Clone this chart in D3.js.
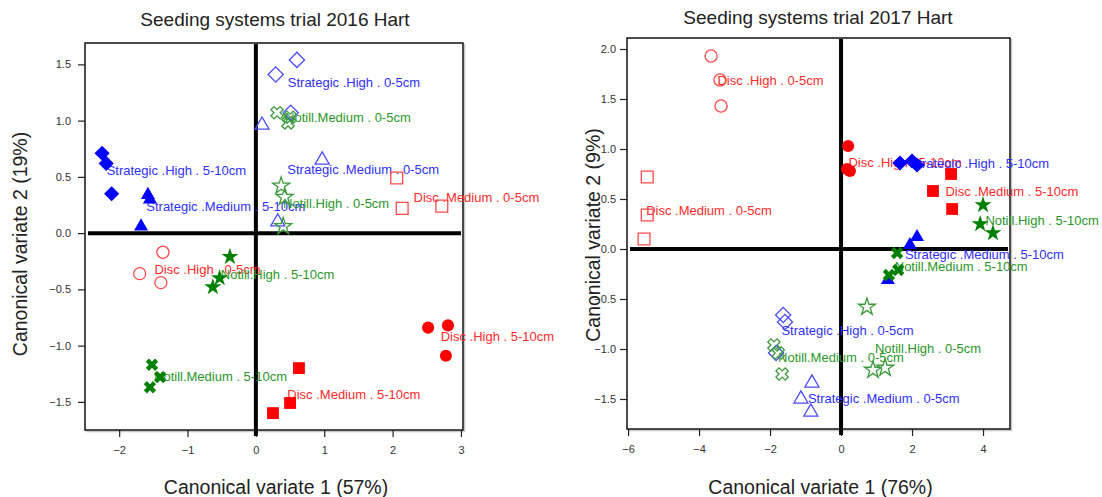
<!DOCTYPE html>
<html>
<head>
<meta charset="utf-8">
<script src="https://cdn.jsdelivr.net/npm/d3@7"></script>
<style>
  body { margin: 0; background: #fff; }
  text { font-family: "Liberation Sans", Arial, sans-serif; }
</style>
</head>
<body>
<svg id="chart" width="1102" height="497"></svg>
<script>
/// Group names (treatment . rate . depth) and canonical scores, one inner array per group
var groups2016 = [
  "Strategic .High . 5-10cm", "Strategic .Medium . 5-10cm", "Strategic .High . 0-5cm",
  "Notill.Medium . 0-5cm", "Strategic .Medium . 0-5cm", "Notill.High . 0-5cm",
  "Disc .Medium . 0-5cm", "Disc .High . 0-5cm", "Notill.High . 5-10cm",
  "Notill.Medium . 5-10cm", "Disc .High . 5-10cm", "Disc .Medium . 5-10cm"
];
var x2016 = [
  [-2.25, -2.19, -2.11], [-1.58, -1.68, -1.55], [0.60, 0.29, 0.51],
  [0.31, 0.47, 0.50], [0.09, 0.97, 0.32], [0.37, 0.42, 0.40],
  [2.06, 2.14, 2.72], [-1.36, -1.70, -1.39], [-0.38, -0.53, -0.63],
  [-1.52, -1.40, -1.55], [2.52, 2.81, 2.78], [0.63, 0.50, 0.25]
];
var y2016 = [
  [0.71, 0.62, 0.35], [0.34, 0.06, 0.30], [1.54, 1.41, 1.07],
  [1.07, 0.98, 1.03], [0.96, 0.65, 0.10], [0.42, 0.32, 0.06],
  [0.49, 0.22, 0.24], [-0.17, -0.36, -0.44], [-0.21, -0.40, -0.48],
  [-1.17, -1.28, -1.37], [-0.84, -0.82, -1.09], [-1.20, -1.51, -1.60]
];

var groups2017 = [
  "Disc .High . 0-5cm", "Disc .Medium . 0-5cm", "Disc .High . 5-10cm",
  "Strategic .High . 5-10cm", "Disc .Medium . 5-10cm", "Notill.High . 5-10cm",
  "Strategic .Medium . 5-10cm", "Notill.Medium . 5-10cm", "Notill.High . 0-5cm",
  "Strategic .High . 0-5cm", "Notill.Medium . 0-5cm", "Strategic .Medium . 0-5cm"
];
var x2017 = [
  [-3.66, -3.41, -3.38], [-5.46, -5.46, -5.55], [0.20, 0.17, 0.25],
  [1.66, 2.00, 2.14], [3.10, 2.59, 3.13], [4.00, 3.92, 4.28],
  [2.14, 1.32, 1.94], [1.58, 1.61, 1.35], [0.73, 0.90, 1.24],
  [-1.63, -1.58, -1.83], [-1.89, -1.77, -1.66], [-0.82, -1.13, -0.85]
];
var y2017 = [
  [1.93, 1.69, 1.43], [0.72, 0.34, 0.10], [1.03, 0.80, 0.78],
  [0.86, 0.88, 0.84], [0.75, 0.58, 0.40], [0.44, 0.25, 0.16],
  [0.12, -0.31, 0.04], [-0.04, -0.21, -0.26], [-0.58, -1.21, -1.19],
  [-0.66, -0.73, -1.04], [-0.96, -1.04, -1.25], [-1.34, -1.50, -1.63]
];

/// Tick values
var xTicks2016 = [-2, -1, 0, 1, 2, 3];
var yTicks2016 = [-1.5, -1.0, -0.5, 0.0, 0.5, 1.0, 1.5];
var xTicks2017 = [-6, -4, -2, 0, 2, 4];
var yTicks2017 = [-1.5, -1.0, -0.5, 0.0, 0.5, 1.0, 1.5, 2.0];

/// Panel layout (pixel frame + axis extents)
var panels = [
  { title: "Seeding systems trial 2016 Hart", xLab: "Canonical variate 1 (57%)", yLab: "Canonical variate 2 (19%)",
    left: 85, right: 463, top: 43, bottom: 430, xDom: [-2.5, 3.03], yDom: [-1.75, 1.69],
    groups: groups2016, xs: x2016, ys: y2016, xTicks: xTicks2016, yTicks: yTicks2016,
    yPad: 7, titleX: 275, titleY: 26, yLabX: 27, yLabY: 244, xLabY: 494 },
  { title: "Seeding systems trial 2017 Hart", xLab: "Canonical variate 1 (76%)", yLab: "Canonical variate 2 (9%)",
    left: 627, right: 1010, top: 38, bottom: 429, xDom: [-6.03, 4.76], yDom: [-1.8, 2.11],
    groups: groups2017, xs: x2017, ys: y2017, xTicks: xTicks2017, yTicks: yTicks2017,
    yPad: 4, titleX: 818, titleY: 24, yLabX: 600, yLabY: 235, xLabY: 494 }
];

/// Colour and marker come from the group name
function styleOf(name) {
  var s = {};
  if (name.indexOf("Disc") === 0) { s.color = "#ff0000"; s.light = "#ff4a4a"; s.text = "#ff2a2a"; }
  else if (name.indexOf("Strategic") === 0) { s.color = "#0000ff"; s.light = "#4a4aff"; s.text = "#2f2fff"; }
  else { s.color = "#008000"; s.light = "#3c9a3c"; s.text = "#2a962a"; }
  var high = name.indexOf("High") >= 0;
  if (name.indexOf("Disc") === 0) s.shape = high ? "circle" : "square";
  else if (name.indexOf("Strategic") === 0) s.shape = high ? "diamond" : "triangle";
  else s.shape = high ? "star" : "x";
  s.filled = name.indexOf("5-10cm") >= 0;
  return s;
}

var shapes = {
  circle:   { type: d3.symbolCircle,   size: 115, rot: 0 },
  square:   { type: d3.symbolSquare,   size: 140, rot: 0 },
  diamond:  { type: d3.symbolSquare,   size: 115, rot: 45 },
  triangle: { type: d3.symbolTriangle, size: 85,  rot: 0 },
  star:     { type: d3.symbolStar,     size: 90,  rot: 0 },
  x:        { type: d3.symbolCross,    size: 95,  rot: 45 }
};

var svg = d3.select("#chart");

panels.forEach(function(p) {
  var xScale = d3.scaleLinear().domain(p.xDom).range([p.left, p.right]);
  var yScale = d3.scaleLinear().domain(p.yDom).range([p.bottom, p.top]);
  var g = svg.append("g");

  /// frame with a faint shadow
  g.append("rect")
    .attr("x", p.left + 1.5).attr("y", p.top + 1.5)
    .attr("width", p.right - p.left).attr("height", p.bottom - p.top)
    .attr("fill", "none").attr("stroke", "#c8c8c8").attr("stroke-width", 1.5);
  g.append("rect")
    .attr("x", p.left).attr("y", p.top)
    .attr("width", p.right - p.left).attr("height", p.bottom - p.top)
    .attr("fill", "#fff").attr("stroke", "#111").attr("stroke-width", 1.5);

  /// axes
  var bottomAxis = d3.axisBottom(xScale).tickValues(p.xTicks).tickSize(7).tickPadding(9)
    .tickFormat(d3.format("d"));
  var leftAxis = d3.axisLeft(yScale).tickValues(p.yTicks).tickSize(7).tickPadding(p.yPad)
    .tickFormat(d3.format(".1f"));

  var gx = g.append("g").attr("transform", "translate(0," + p.bottom + ")").call(bottomAxis);
  var gy = g.append("g").attr("transform", "translate(" + p.left + ",0)").call(leftAxis);
  [gx, gy].forEach(function(a) {
    a.select(".domain").remove();
    a.selectAll("line").attr("stroke", "#222").attr("stroke-width", 1.2);
    a.selectAll("text").attr("fill", "#333").style("font-size", "11px")
      .style("font-family", "'Liberation Sans Narrow', 'Liberation Sans', Arial, sans-serif");
  });

  /// zero lines
  g.append("line")
    .attr("x1", p.left + 3).attr("x2", p.right - 2)
    .attr("y1", yScale(0)).attr("y2", yScale(0))
    .attr("stroke", "#000").attr("stroke-width", 4);
  g.append("line")
    .attr("x1", xScale(0)).attr("x2", xScale(0))
    .attr("y1", p.top + 1).attr("y2", p.bottom + 6)
    .attr("stroke", "#000").attr("stroke-width", 4);

  /// group labels, placed at the group centroid
  p.groups.forEach(function(name, i) {
    var s = styleOf(name);
    g.append("text")
      .attr("x", xScale(d3.mean(p.xs[i])))
      .attr("y", yScale(d3.mean(p.ys[i])))
      .attr("dy", "0.35em")
      .attr("fill", s.text)
      .style("font-size", "13px")
      .text(name);
  });

  /// points
  p.groups.forEach(function(name, i) {
    var s = styleOf(name);
    var sh = shapes[s.shape];
    var sym = d3.symbol().type(sh.type).size(sh.size);
    g.selectAll(null)
      .data(d3.range(p.xs[i].length))
      .enter()
      .append("path")
      .attr("d", sym)
      .attr("transform", function(j) {
        return "translate(" + xScale(p.xs[i][j]) + "," + yScale(p.ys[i][j]) + ") rotate(" + sh.rot + ")";
      })
      .attr("fill", s.filled ? s.color : "none")
      .attr("stroke", s.filled ? "none" : s.light)
      .attr("stroke-width", 1.3);
  });

  /// titles and axis labels
  g.append("text")
    .attr("x", p.titleX).attr("y", p.titleY)
    .attr("text-anchor", "middle").attr("fill", "#222")
    .style("font-size", "19px")
    .text(p.title);

  g.append("text")
    .attr("x", (p.left + p.right) / 2 + 2).attr("y", p.xLabY)
    .attr("text-anchor", "middle").attr("fill", "#222")
    .style("font-size", "19.5px")
    .text(p.xLab);

  g.append("text")
    .attr("transform", "translate(" + p.yLabX + "," + p.yLabY + ") rotate(-90)")
    .attr("text-anchor", "middle").attr("fill", "#222")
    .style("font-size", "19.5px")
    .text(p.yLab);
});
</script>
</body>
</html>
